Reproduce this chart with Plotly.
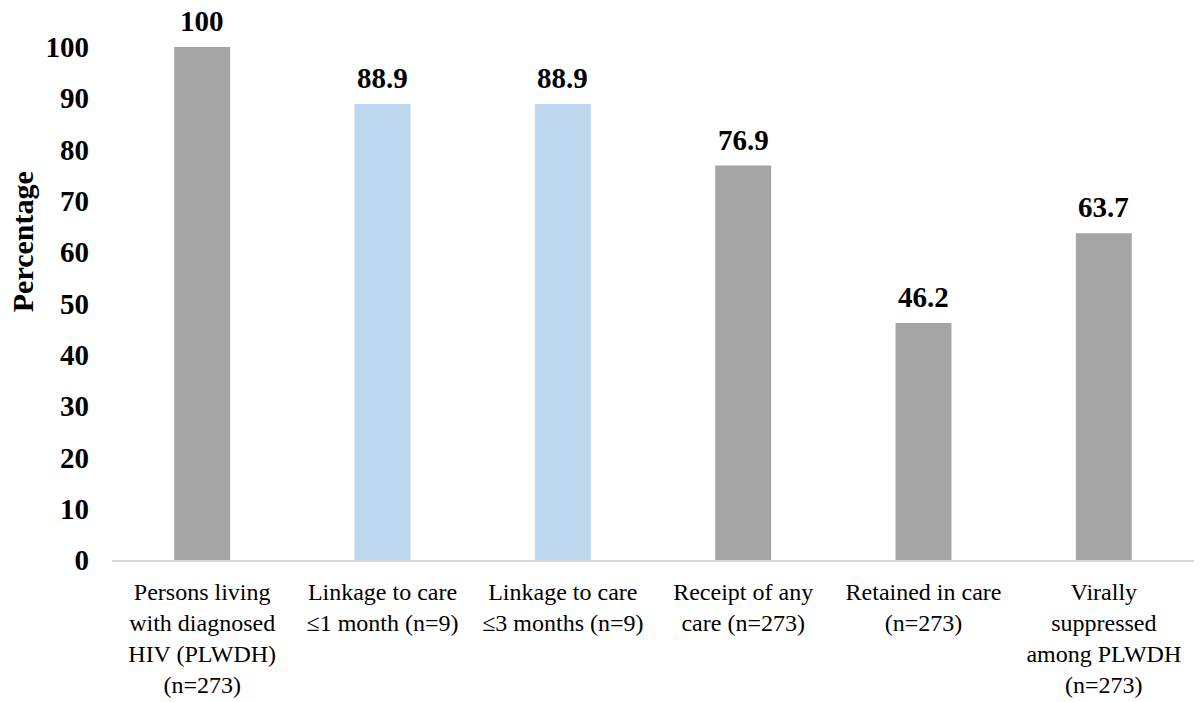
import plotly.graph_objects as go

categories = [
    "Persons living<br>with diagnosed<br>HIV (PLWDH)<br>(n=273)",
    "Linkage to care<br>≤1 month (n=9)",
    "Linkage to care<br>≤3 months (n=9)",
    "Receipt of any<br>care (n=273)",
    "Retained in care<br>(n=273)",
    "Virally<br>suppressed<br>among PLWDH<br>(n=273)",
]
values = [100, 88.9, 88.9, 76.9, 46.2, 63.7]
labels = ["100", "88.9", "88.9", "76.9", "46.2", "63.7"]
colors = ["#A5A5A5", "#BDD7EE", "#BDD7EE", "#A5A5A5", "#A5A5A5", "#A5A5A5"]
yticks = list(range(0, 101, 10))

FONT = "Liberation Serif, Times New Roman, serif"

fig = go.Figure(go.Bar(
    x=categories, y=values,
    marker=dict(color=colors, line=dict(width=0)),
    width=0.31,
    cliponaxis=False,
))
for c, v, t in zip(categories, values, labels):
    fig.add_annotation(
        x=c, y=v, text=t, showarrow=False, yanchor="bottom", yshift=9, borderpad=0,
        font=dict(family=FONT, size=29, color="black", weight="bold"),
    )
fig.add_annotation(
    xref="paper", yref="paper", x=-0.082, y=0.62, text="Percentage", textangle=-90,
    showarrow=False, xanchor="center", yanchor="middle",
    font=dict(family=FONT, size=30, color="black", weight="bold"),
)
fig.update_layout(
    width=1200, height=702,
    margin=dict(l=112, r=6, t=47, b=142),
    paper_bgcolor="white", plot_bgcolor="white",
    font=dict(family=FONT, color="black"),
    showlegend=False,
)
fig.update_xaxes(
    showline=True, linecolor="#D9D9D9", linewidth=1.5,
    showgrid=False, ticks="", automargin=False,
    ticklabelstandoff=9,
    tickfont=dict(family=FONT, size=24, color="black"),
)
fig.update_yaxes(
    range=[0, 100], tickvals=yticks, showgrid=False, showline=False, zeroline=False,
    automargin=False,
    tickfont=dict(family=FONT, size=29, color="black", weight="bold"),
    ticklabelstandoff=22,
)
fig.write_html("out.html", config={"displayModeBar": False},
               post_script="document.body.style.margin='0';")
